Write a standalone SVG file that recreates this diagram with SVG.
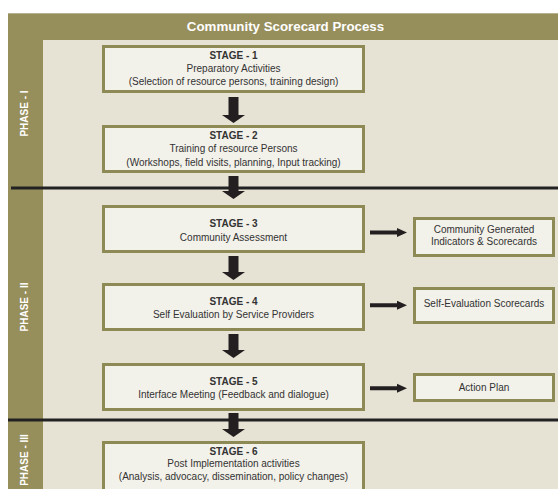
<svg xmlns="http://www.w3.org/2000/svg" width="558" height="489" viewBox="0 0 558 489">
<style>
.band{fill:#968e5b}
.bg{fill:#e6e3d4}
.box{fill:#f2f1ea;stroke:#8e8a55;stroke-width:3}
.t{font-family:"Liberation Sans",Arial,sans-serif;font-size:10px;fill:#333;text-anchor:middle}
.b{font-weight:bold}
.ph{font-family:"Liberation Sans",Arial,sans-serif;font-size:10px;font-weight:bold;fill:#fff;text-anchor:middle}
.arr{fill:#231f20}
.div{stroke:#222;stroke-width:3}
</style>
<rect width="558" height="489" fill="#fff"/>
<g id="frame">
<rect class="band" x="8" y="13" width="550" height="476"/>
<rect x="8" y="13" width="550" height="1" fill="#b7b18d"/>
<rect class="bg" x="43" y="40" width="515" height="449"/>
<text x="285.5" y="30.5" font-family="'Liberation Sans',Arial,sans-serif" font-size="13.3" font-weight="bold" fill="#fff" text-anchor="middle">Community Scorecard Process</text>
</g>
<g id="phase1"><text class="ph" transform="translate(27.5,113.5) rotate(-90)">PHASE - I</text></g>
<g id="phase2"><text class="ph" transform="translate(27.5,307) rotate(-90)">PHASE - II</text></g>
<g id="phase3"><text class="ph" transform="translate(27.5,460) rotate(-90)">PHASE - III</text></g>
<g id="dividers">
<line class="div" x1="11" y1="188" x2="558" y2="188"/>
<line class="div" x1="8" y1="420" x2="558" y2="420"/>
</g>
<g id="stage1">
<rect class="box" x="103.5" y="46.5" width="260" height="45"/>
<text class="t b" x="233.5" y="58.5">STAGE - 1</text>
<text class="t" x="233.5" y="71.5">Preparatory Activities</text>
<text class="t" x="233.5" y="84.5">(Selection of resource persons, training design)</text>
</g>
<g id="stage2">
<rect class="box" x="103.5" y="126.5" width="260" height="45"/>
<text class="t b" x="233.5" y="138.5">STAGE - 2</text>
<text class="t" x="233.5" y="152">Training of resource Persons</text>
<text class="t" x="233.5" y="166">(Workshops, field visits, planning, Input tracking)</text>
</g>
<g id="stage3">
<rect class="box" x="103.5" y="206.5" width="260" height="45"/>
<text class="t b" x="233.5" y="226.5">STAGE - 3</text>
<text class="t" x="233.5" y="240.5">Community Assessment</text>
</g>
<g id="stage4">
<rect class="box" x="103.5" y="284.5" width="260" height="45"/>
<text class="t b" x="233.5" y="304.5">STAGE - 4</text>
<text class="t" x="233.5" y="317.5">Self Evaluation by Service Providers</text>
</g>
<g id="stage5">
<rect class="box" x="103.5" y="364.5" width="260" height="45"/>
<text class="t b" x="233.5" y="385">STAGE - 5</text>
<text class="t" x="233.5" y="397.5">Interface Meeting (Feedback and dialogue)</text>
</g>
<g id="stage6">
<rect class="box" x="103.5" y="442.5" width="260" height="50"/>
<text class="t b" x="233.5" y="454.5">STAGE - 6</text>
<text class="t" x="233.5" y="467">Post Implementation activities</text>
<text class="t" x="233.5" y="479.5">(Analysis, advocacy, dissemination, policy changes)</text>
</g>
<g id="out1">
<rect class="box" x="414.5" y="218.5" width="139" height="37"/>
<text class="t" x="484" y="233">Community Generated</text>
<text class="t" x="484" y="244.5">Indicators &amp; Scorecards</text>
</g>
<g id="out2">
<rect class="box" x="414.5" y="288.5" width="139" height="34"/>
<text class="t" x="484" y="307">Self-Evaluation Scorecards</text>
</g>
<g id="out3">
<rect class="box" x="414.5" y="374.5" width="139" height="26"/>
<text class="t" x="484" y="391">Action Plan</text>
</g>
<g id="connectors">
<polygon class="arr" points="228.5,97 238.5,97 238.5,115 245,115 233.5,123 222,115 228.5,115"/>
<polygon class="arr" points="228.5,176 238.5,176 238.5,191 245,191 233.5,199 222,191 228.5,191"/>
<polygon class="arr" points="228.5,256 238.5,256 238.5,272 245,272 233.5,280 222,272 228.5,272"/>
<polygon class="arr" points="228.5,334 238.5,334 238.5,350 245,350 233.5,358 222,350 228.5,350"/>
<polygon class="arr" points="228.5,413 238.5,413 238.5,429 245,429 233.5,437 222,429 228.5,429"/>
<polygon class="arr" points="370,230.5 397,230.5 397,228 407,232.5 397,237 397,234.5 370,234.5"/>
<polygon class="arr" points="370,303.3 397,303.3 397,300.8 407,305.3 397,309.8 397,307.3 370,307.3"/>
<polygon class="arr" points="370,386.3 397,386.3 397,383.8 407,388.3 397,392.8 397,390.3 370,390.3"/>
</g>
</svg>
